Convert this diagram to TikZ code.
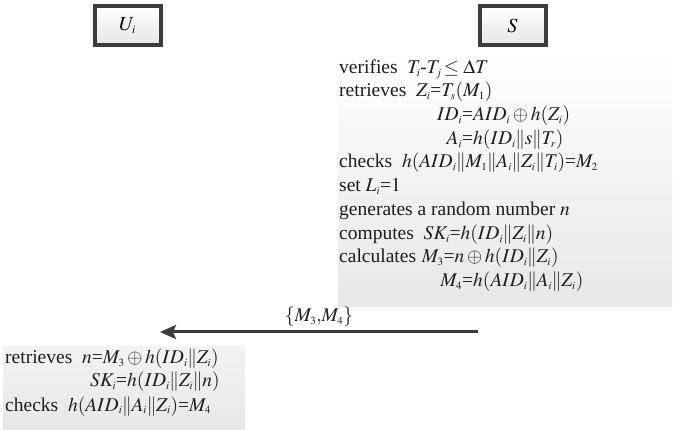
\documentclass[tikz,border=0pt]{standalone}
\usepackage{mathptmx}
\usepackage[no-math]{fontspec}
\setmainfont{Liberation Serif}
\usetikzlibrary{arrows.meta}

% small sub- and superscripts, as in the typeset protocol
\DeclareMathSizes{19.5}{19.5}{11}{8}
\DeclareMathSizes{20}{20}{11.5}{8}

\definecolor{framegray}{HTML}{3C3C3C}
\definecolor{boxfill}{HTML}{E6E6E6}
\definecolor{panelgray}{HTML}{E7E7E7}
\definecolor{panellight}{HTML}{F3F3F3}
\definecolor{inkgray}{HTML}{1E1E1E}

% narrow equals sign taken from the text font
\newcommand{\eqs}{\mathord{\hbox{=}}}
% concatenation bars
\newcommand{\cat}{\mathord{|\mkern-1.5mu|}}

\tikzset{
  party/.style={draw=framegray, line width=4pt, top color=white, bottom color=boxfill,
    minimum width=66pt, minimum height=39pt, inner sep=0pt,
    font=\fontsize{20}{24}\selectfont},
  stepline/.style={anchor=base west, inner sep=0pt, text=inkgray,
    font=\fontsize{19.5}{23.7}\selectfont},
  msg/.style={draw=framegray, line width=3pt,
    -{Stealth[length=16pt,width=14pt,inset=3pt]}},
  msglabel/.style={inner sep=0pt, text=inkgray, font=\fontsize{19.5}{23.7}\selectfont},
}

\begin{document}
\begin{tikzpicture}[x=1pt,y=-1pt]
  \useasboundingbox (0,0) rectangle (675,430);

  % shaded panels behind the computation steps
  \shade[top color=white, bottom color=panelgray] (338,50) rectangle (672,307);
  \shade[top color=panellight, bottom color=panelgray] (3,347) rectangle (245,430);

  % the two parties
  \node[party] (ui) at (127.5,25.5) {$U_i$};
  \node[party] (s)  at (512.5,25.5) {$S$};

  % server side
  \node[stepline] (s1)  at (339,74)  {verifies\hspace{0.5em}$T_i$-$T_j\!\leq\Delta T$};
  \node[stepline] (s2)  at (339,97)  {retrieves\hspace{0.5em}$Z_i\eqs T_s(M_1)$};
  \node[stepline] (s3)  at (462,121) {\llap{$ID_i$}$\eqs AID_i\oplus h(Z_i)$};
  \node[stepline] (s4)  at (462,145) {\llap{$A_i$}$\eqs h(ID_i\cat s\cat T_r)$};
  \node[stepline] (s5)  at (339,168) {checks\hspace{0.5em}$h(AID_i\cat M_1\cat A_i\cat Z_i\cat T_i)\eqs M_2$};
  \node[stepline] (s6)  at (339,192) {set $L_i\eqs 1$};
  \node[stepline] (s7)  at (339,216) {generates a random number $n$};
  \node[stepline] (s8)  at (339,240) {computes\hspace{0.5em}$SK_i\eqs h(ID_i\cat Z_i\cat n)$};
  \node[stepline] (s9)  at (339,263) {calculates\hspace{0.3em}$M_3\eqs n\oplus h(ID_i\cat Z_i)$};
  \node[stepline] (s10) at (462,287) {\llap{$M_4$}$\eqs h(AID_i\cat A_i\cat Z_i)$};

  % message from S to U_i
  \coordinate (from) at (478,332);
  \coordinate (to)   at (160,332);
  \draw[msg] (from) -- (to) node[msglabel, midway, above=4pt] (m) {$\{M_3{,}M_4\}$};

  % user side
  \node[stepline] (u1) at (5,364)   {retrieves\hspace{0.5em}$n\eqs M_3\oplus h(ID_i\cat Z_i)$};
  \node[stepline] (u2) at (116,387) {\llap{$SK_i$}$\eqs h(ID_i\cat Z_i\cat n)$};
  \node[stepline] (u3) at (5,411)   {checks\hspace{0.5em}$h(AID_i\cat A_i\cat Z_i)\eqs M_4$};
\end{tikzpicture}
\end{document}
